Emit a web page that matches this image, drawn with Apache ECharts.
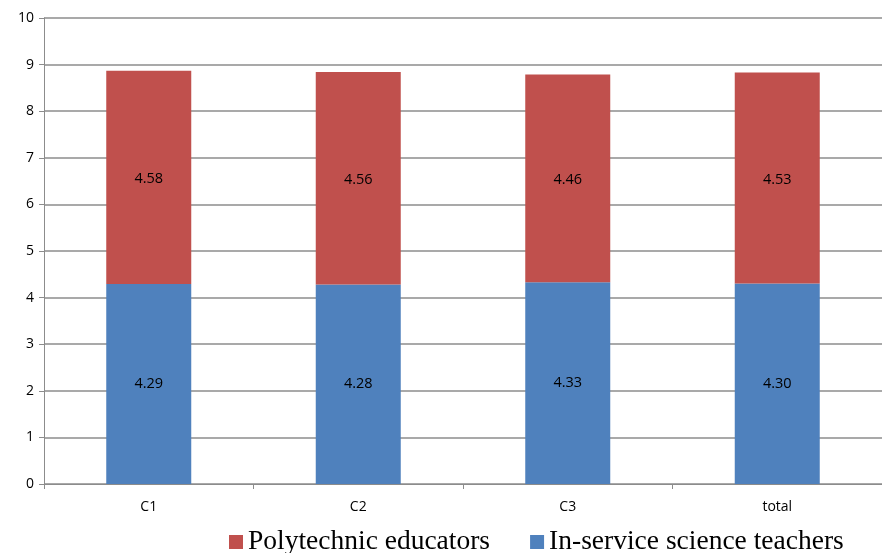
<!DOCTYPE html>
<html>
<head>
<meta charset="utf-8">
<script src="https://cdn.jsdelivr.net/npm/echarts@6/dist/echarts.min.js"></script>
<style>
  html, body { margin: 0; padding: 0; background: #fff; }
  #chart { width: 882px; height: 553px; }
</style>
</head>
<body>
<div id="chart"></div>
<script>
// data
const categories = ['C1', 'C2', 'C3', 'total']
const inService = [4.29, 4.28, 4.33, 4.30]
const polytechnic = [4.58, 4.56, 4.46, 4.53]

let myChart = echarts.init(document.getElementById('chart'))

const inside = {
  show: true,
  position: 'inside',
  color: '#000',
  fontFamily: 'Open Sans',
  fontSize: 14.5,
  formatter: p => p.value.toFixed(2)
}

myChart.setOption({
  animation: false,
  grid: { left: 44, right: 0, top: 18, bottom: 69 },
  legend: {
    left: 224,
    top: 523,
    itemWidth: 14,
    itemHeight: 14,
    itemGap: 40,
    icon: 'rect',
    textStyle: { fontFamily: 'Liberation Serif', fontSize: 27.5, color: '#000' },
    data: ['Polytechnic educators', 'In-service science teachers']
  },
  xAxis: {
    type: 'category',
    data: categories,
    axisLine: { lineStyle: { color: '#8c8c8c', width: 1 } },
    axisTick: { show: true, alignWithLabel: false, length: 5, lineStyle: { color: '#8c8c8c' } },
    axisLabel: { color: '#000', fontFamily: 'Open Sans', fontSize: 14, margin: 16 }
  },
  yAxis: {
    type: 'value',
    min: 0,
    max: 10,
    interval: 1,
    axisLine: { show: true, lineStyle: { color: '#8c8c8c', width: 1 } },
    axisTick: { show: true, length: 5, lineStyle: { color: '#8c8c8c' } },
    axisLabel: { color: '#000', fontFamily: 'Open Sans', fontSize: 14, margin: 10 },
    splitLine: { lineStyle: { color: '#8c8c8c', width: 1.5 } }
  },
  series: [
    {
      name: 'In-service science teachers',
      type: 'bar',
      stack: 'total',
      barWidth: 85,
      data: inService,
      itemStyle: { color: '#4F81BD' },
      label: inside
    },
    {
      name: 'Polytechnic educators',
      type: 'bar',
      stack: 'total',
      barWidth: 85,
      data: polytechnic,
      itemStyle: { color: '#C0504D' },
      label: Object.assign({}, inside, { offset: [0, 2] })
    }
  ]
})
</script>
</body>
</html>
